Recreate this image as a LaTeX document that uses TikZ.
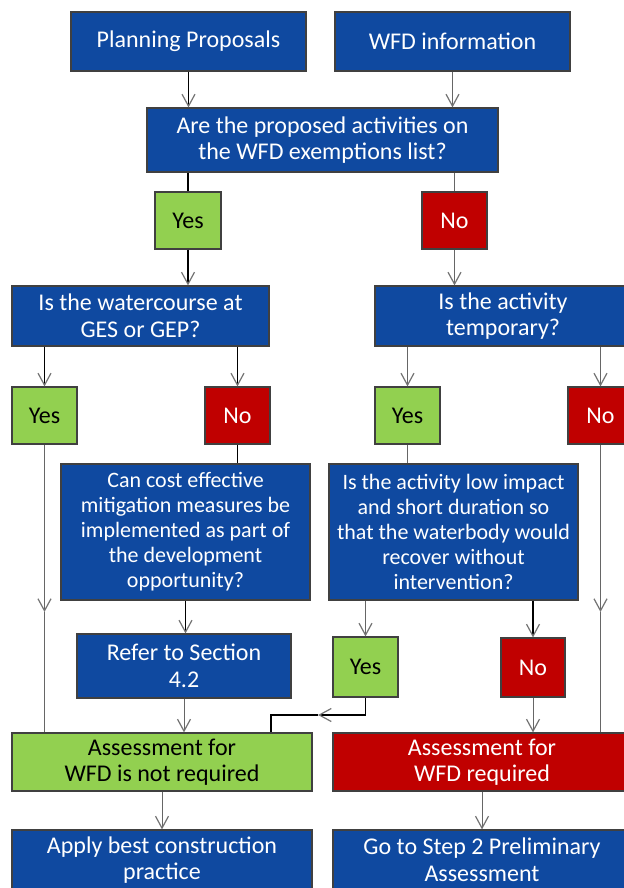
\documentclass[tikz,border=0pt]{standalone}
\usepackage{fontspec}
\setmainfont{Carlito}
\usetikzlibrary{arrows.meta}
\definecolor{wfdblue}{RGB}{15,73,160}
\definecolor{wfdgreen}{RGB}{146,208,80}
\definecolor{wfdred}{RGB}{192,0,0}
\tikzset{
  box/.style={draw=black!75, line width=.6pt, inner sep=0pt, align=center,
    font=\fontsize{12}{13.3}\selectfont},
  bbox/.style={box, fill=wfdblue, text=white},
  gbox/.style={box, fill=wfdgreen, text=black},
  rbox/.style={box, fill=wfdred, text=white},
  small/.style={font=\fontsize{11}{12.5}\selectfont},
  ln/.style={black, line width=.75pt},
  lg/.style={black!60, line width=.5pt},
  tip/.style={-{Straight Barb[length=6pt,width=6.5pt,color=black!55,line width=.6pt]}}
}
\begin{document}
\begin{tikzpicture}[x=.5pt,y=-.5pt]
    \clip (0,0) rectangle (624,888);
    \fill[white] (0,0) rectangle (624,888);
    \node[bbox,minimum width=117.5pt,minimum height=29.5pt] (plan) at (188.5,41.5) {Planning Proposals};
    \node[bbox,minimum width=117.5pt,minimum height=29.5pt] (info) at (452.5,41.5) {WFD information};
    \node[bbox,minimum width=175.5pt,minimum height=32pt] (q1) at (322.5,140) {Are the proposed activities on\\the WFD exemptions list?};
    \node[gbox,minimum width=33pt,minimum height=28.5pt] (yes1) at (188,220.5) {Yes};
    \node[rbox,minimum width=32.5pt,minimum height=28.5pt] (no1) at (454.5,220.5) {No};
    \node[bbox,minimum width=128.5pt,minimum height=30pt] (water) at (140.5,316) {Is the watercourse at\\GES or GEP?};
    \node[bbox,minimum width=128pt,minimum height=30pt] (temp) at (503,316) {Is the activity\\temporary?};
    \node[gbox,minimum width=32.5pt,minimum height=28.5pt] (yes2) at (44.5,415.5) {Yes};
    \node[rbox,minimum width=32.5pt,minimum height=28.5pt] (no2) at (237.5,415.5) {No};
    \node[gbox,minimum width=32.5pt,minimum height=28.5pt] (yes3) at (407.5,415.5) {Yes};
    \node[rbox,minimum width=32.5pt,minimum height=28.5pt] (no3) at (600.5,415.5) {No};
    \node[bbox,small,minimum width=124.5pt,minimum height=68pt] (cost) at (185.5,532) {Can cost effective\\mitigation measures be\\implemented as part of\\the development\\opportunity?};
    \node[bbox,small,minimum width=124.5pt,minimum height=68pt] (low) at (453.5,532) {Is the activity low impact\\and short duration so\\that the waterbody would\\recover without\\intervention?};
    \node[bbox,minimum width=107pt,minimum height=32pt] (refer) at (184,666) {Refer to Section\\4.2};
    \node[gbox,minimum width=32.5pt,minimum height=30pt] (yes4) at (365.5,667) {Yes};
    \node[rbox,minimum width=32pt,minimum height=29.5pt] (no4) at (533,667.5) {No};
    \node[gbox,minimum width=150pt,minimum height=29pt] (notreq) at (162,762) {Assessment for\\WFD is not required};
    \node[rbox,minimum width=149pt,minimum height=29pt] (req) at (482,762) {Assessment for\\WFD required};
    \node[bbox,minimum width=150pt,minimum height=30pt] (apply) at (162,860) {Apply best construction\\practice};
    \node[bbox,minimum width=149pt,minimum height=30pt] (goto) at (482,860) {Go to Step 2 Preliminary\\Assessment};
    \coordinate (m1) at (44.5,612); \coordinate (m2) at (600.5,612);
    \coordinate (e1) at (365.5,715); \coordinate (e2) at (318,715); \coordinate (e3) at (271,715);
    \draw[ln,tip] (plan.south) -- (plan.south |- q1.north);
    \draw[lg,tip] (info.south) -- (info.south |- q1.north);
    \draw[ln] (yes1.north |- q1.south) -- (yes1.north); \draw[lg] (no1.north |- q1.south) -- (no1.north);
    \draw[ln,tip] (yes1.south) -- (yes1.south |- water.north); \draw[lg,tip] (no1.south) -- (no1.south |- temp.north);
    \draw[ln,tip] (yes2.north |- water.south) -- (yes2.north); \draw[ln,tip] (no2.north |- water.south) -- (no2.north);
    \draw[lg,tip] (yes3.north |- temp.south) -- (yes3.north); \draw[lg,tip] (no3.north |- temp.south) -- (no3.north);
    \draw[ln] (no2.south) -- (no2.south |- cost.north); \draw[lg] (yes3.south) -- (yes3.south |- low.north);
    \draw[lg,tip] (yes2.south) -- (m1); \draw[lg] (m1) -- (m1 |- notreq.north);
    \draw[lg,tip] (no3.south) -- (m2); \draw[lg] (m2) -- (m2 |- req.north);
    \draw[ln,tip] (cost.south) -- (cost.south |- refer.north);
    \draw[lg,tip] (refer.south) -- (refer.south |- notreq.north);
    \draw[lg,tip] (yes4.north |- low.south) -- (yes4.north); \draw[ln,tip] (no4.north |- low.south) -- (no4.north);
    \draw[ln,tip] (yes4.south) -- (e1) -- (e2); \draw[ln] (e2) -- (e3) -- (e3 |- notreq.north);
    \draw[lg,tip] (no4.south) -- (no4.south |- req.north);
    \draw[lg,tip] (notreq.south) -- (apply.north);
    \draw[lg,tip] (req.south) -- (goto.north);
\end{tikzpicture}
\end{document}
